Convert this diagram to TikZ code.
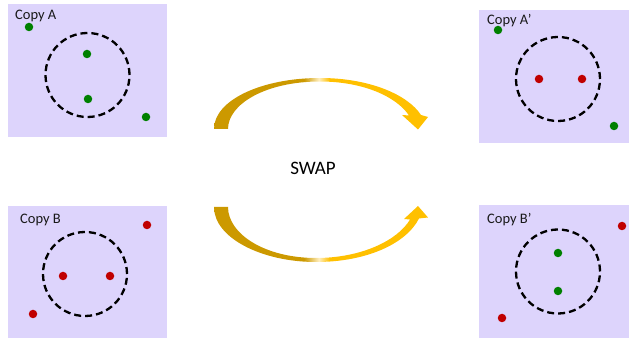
\documentclass[tikz,border=0pt]{standalone}
\usepackage{fontspec}
\setmainfont{Carlito}
\definecolor{panel}{RGB}{221,212,252}
\definecolor{dotgreen}{RGB}{0,128,0}
\definecolor{dotred}{RGB}{192,0,0}
\definecolor{golddark}{RGB}{204,153,0}
\definecolor{goldlight}{RGB}{255,238,190}
\definecolor{goldbright}{RGB}{255,192,0}
\pgfdeclarehorizontalshading{goldarc}{100bp}{color(0bp)=(golddark); color(46bp)=(golddark); color(49.5bp)=(goldlight); color(52bp)=(goldbright); color(100bp)=(goldbright)}
\begin{document}
\begin{tikzpicture}[x=1pt,y=-1pt,
  panelbox/.style={rectangle,fill=panel,draw=none,inner sep=0pt},
  ring/.style={circle,draw=black,line width=2.3pt,dash pattern=on 7pt off 4pt,minimum size=84pt,inner sep=0pt},
  gdot/.style={circle,fill=dotgreen,minimum size=8.5pt,inner sep=0pt},
  rdot/.style={circle,fill=dotred,minimum size=8.5pt,inner sep=0pt},
  copylabel/.style={anchor=base west,inner sep=0pt,font=\fontsize{14.5}{17}\selectfont,text=black!90},
  swaparrow/.style={shading=goldarc,draw=none}]
\useasboundingbox (0,0) rectangle (630,339);

% panels
\node[panelbox,minimum width=159pt,minimum height=133pt] (boxA) at (87.5,70.5) {};
\node[panelbox,minimum width=150pt,minimum height=133pt] (boxAp) at (554,76.5) {};
\node[panelbox,minimum width=159pt,minimum height=132pt] (boxB) at (87.5,272) {};
\node[panelbox,minimum width=150pt,minimum height=133pt] (boxBp) at (554,271.5) {};

% labels
\node[copylabel] (labA) at (15,19.5) {Copy A};
\node[copylabel] (labAp) at (487,25) {Copy A’};
\node[copylabel] (labB) at (20,223.7) {Copy B};
\node[copylabel] (labBp) at (487,223.3) {Copy B’};

% dashed regions
\node[ring] (ringA) at (87.5,75) {};
\node[ring] (ringAp) at (558,79) {};
\node[ring] (ringB) at (85,274) {};
\node[ring] (ringBp) at (558,271.5) {};

% Copy A
\node[gdot] (a1) at (29,27) {};
\node[gdot] (a2) at (87,54) {};
\node[gdot] (a3) at (88,99) {};
\node[gdot] (a4) at (146,117) {};

% Copy A'
\node[gdot] (ap1) at (498,30) {};
\node[rdot] (ap2) at (539,79) {};
\node[rdot] (ap3) at (582,79) {};
\node[gdot] (ap4) at (614,126) {};

% Copy B
\node[rdot] (b1) at (147,225) {};
\node[rdot] (b2) at (63,276) {};
\node[rdot] (b3) at (110,276) {};
\node[rdot] (b4) at (33,314) {};

% Copy B'
\node[rdot] (bp1) at (622,226) {};
\node[gdot] (bp2) at (558,253) {};
\node[gdot] (bp3) at (558,291) {};
\node[rdot] (bp4) at (502,318) {};

% centre label
\node[font=\fontsize{19}{22}\selectfont] (swap) at (313,168) {SWAP};

% upper curved arrow
\path[swaparrow] (214,129) .. controls (214,100) and (262,78) .. (320,78)
  .. controls (370,78) and (408,95) .. (421,115)
  -- (428,117) -- (418,129.5) -- (402,115) -- (409,115.5)
  .. controls (396,96) and (362,81.5) .. (320,81.5)
  .. controls (266,81.5) and (228,104) .. (228,129) -- cycle;

% lower curved arrow
\path[swaparrow] (214,207) .. controls (214,238) and (262,262) .. (316,262)
  .. controls (366,262) and (406,244) .. (419,218.5)
  -- (428,217.5) -- (418,206) -- (404,219) -- (410,219.5)
  .. controls (398,240) and (362,258) .. (316,258)
  .. controls (265,258) and (228,234) .. (228,207) -- cycle;
\end{tikzpicture}
\end{document}
